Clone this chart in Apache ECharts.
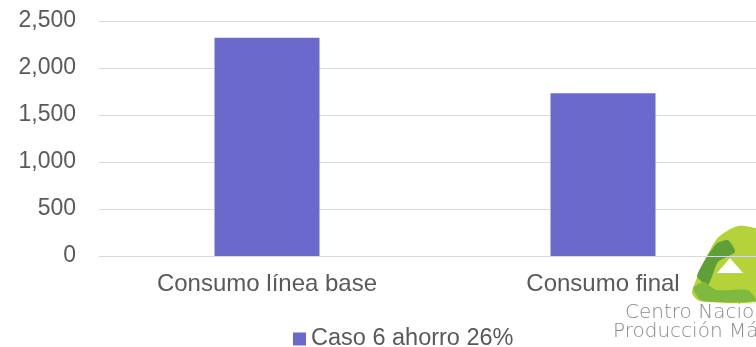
<!DOCTYPE html>
<html>
<head>
<meta charset="utf-8">
<script src="https://cdn.jsdelivr.net/npm/echarts@6/dist/echarts.min.js"></script>
<style>
  html, body { margin: 0; padding: 0; background: #fff; overflow: hidden; }
  #chart { width: 771px; height: 347px; }
</style>
</head>
<body>
<div id="chart"></div>
<script>
// Energy consumption, baseline vs. final
const categories = ['Consumo línea base', 'Consumo final'];
const seriesName = 'Caso 6 ahorro 26%';
const consumo = [2322, 1731];
const yMin = 0;
const yMax = 2500;
const yStep = 500;

const FONT = '"Liberation Sans", Arial, sans-serif';
const TEXT = '#595959';
const LOGO_FONT = '200 20px "DejaVu Sans", "Open Sans", sans-serif';

const chart = echarts.init(document.getElementById('chart'), null, { renderer: 'canvas' });

chart.setOption({
  animation: false,
  backgroundColor: '#ffffff',
  grid: { left: 99, right: 0, top: 21, bottom: 91, containLabel: false },
  legend: {
    data: [seriesName],
    left: 293, top: 327,
    padding: 0,
    icon: 'rect',
    itemWidth: 13, itemHeight: 13,
    textStyle: { fontFamily: FONT, fontSize: 23.5, color: TEXT }
  },
  xAxis: {
    type: 'category',
    data: categories,
    axisLine: { show: true, lineStyle: { color: '#d9d9d9', width: 1 } },
    axisTick: { show: false },
    axisLabel: { fontFamily: FONT, fontSize: 24, color: TEXT, margin: 16 },
    splitLine: { show: false }
  },
  yAxis: {
    type: 'value',
    min: yMin, max: yMax, interval: yStep,
    axisLine: { show: false },
    axisTick: { show: false },
    axisLabel: {
      fontFamily: FONT, fontSize: 23, color: TEXT, margin: 23,
      padding: [4, 0, 0, 0],
      formatter: v => v.toLocaleString('en-US')
    },
    splitLine: { lineStyle: { color: '#d9d9d9', width: 1 } }
  },
  series: [{
    name: seriesName,
    type: 'bar',
    data: consumo,
    barWidth: 105,
    itemStyle: { color: '#6a6acd' }
  }],
  graphic: [
    // logo mark, drawn beneath the grid lines
    { type: 'polygon', z: -10, shape: { smooth: 0.25, points: [[692, 292], [716, 240], [738, 226], [762, 232], [784, 282], [764, 301], [700, 301]] }, style: { fill: '#b4d33a' } },
    { type: 'polygon', z: -9, shape: { smooth: 0.2, points: [[697, 276], [716, 244], [728, 240], [735, 252], [718, 262], [708, 285]] }, style: { fill: '#5f9f37' } },
    { type: 'polygon', z: -9, shape: { smooth: 0.2, points: [[693, 288], [704, 282], [716, 290], [748, 290], [756, 301], [702, 301]] }, style: { fill: '#7fb93d' } },
    { type: 'polygon', z: -8, shape: { points: [[730, 258], [717, 273], [743, 273]] }, style: { fill: '#ffffff' } },
    { type: 'text', z: -8, left: 625, top: 303, style: { text: 'Centro Nacional de', font: LOGO_FONT, fill: '#8a8a8a' } },
    { type: 'text', z: -8, left: 613, top: 322, style: { text: 'Producción Más Limpia', font: LOGO_FONT, fill: '#8a8a8a' } }
  ]
});
</script>
</body>
</html>
